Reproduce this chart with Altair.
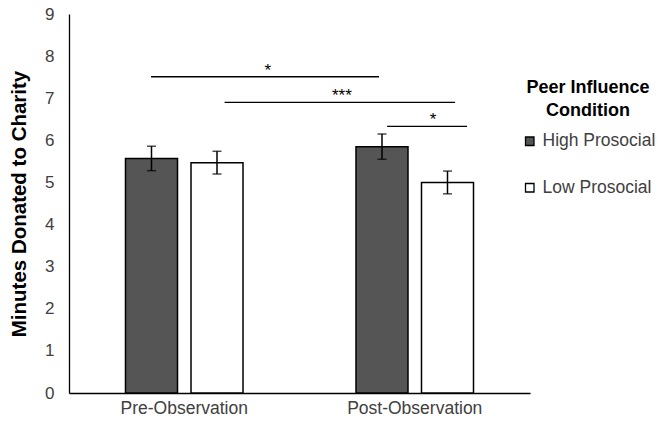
import altair as alt
import pandas as pd

phases = ["Pre-Observation", "Post-Observation"]
conditions = ["High Prosocial", "Low Prosocial"]
means = [[5.57, 5.47], [5.85, 5.00]]
ses = [[0.29, 0.27], [0.30, 0.27]]

rows = []
for i, p in enumerate(phases):
    for j, c in enumerate(conditions):
        rows.append({"phase": p, "cond": c, "mean": means[i][j],
                     "lo": means[i][j] - ses[i][j], "hi": means[i][j] + ses[i][j]})
df = pd.DataFrame(rows)

# significance brackets (x in category units across the two groups, y in minutes)
sig_x1 = [0.356, 0.675, 1.380]
sig_x2 = [1.345, 1.675, 1.727]
sig_y = [7.51, 6.90, 6.33]
sig_label = ["*", "***", "*"]
sig_tx = [0.863, 1.184, 1.579]
sig = pd.DataFrame({"x1": sig_x1, "x2": sig_x2, "y": sig_y})
sig_t = pd.DataFrame({"x": sig_tx, "y": sig_y, "label": sig_label})

FONT = "Liberation Sans"

xenc = alt.X("phase:N", sort=phases, title=None,
             scale=alt.Scale(paddingInner=0, paddingOuter=0),
             axis=alt.Axis(labelAngle=0, ticks=False, domainColor="#000000",
                           domainWidth=1.3, labelFontSize=17.5, labelColor="#404040",
                           labelPadding=6, labelFont=FONT))
xoff = alt.XOffset("cond:N", sort=conditions,
                   scale=alt.Scale(paddingInner=0.206, paddingOuter=0.8625))
yscale = alt.Scale(domain=[0, 9], nice=False)
yenc = alt.Y("mean:Q", scale=yscale, title="Minutes Donated to Charity",
             axis=alt.Axis(values=list(range(10)), grid=False, ticks=False,
                           domainColor="#000000", domainWidth=1.3,
                           labelFontSize=17, labelColor="#404040", labelPadding=15,
                           labelFont=FONT, titleFont=FONT, titleFontSize=20.5,
                           titleFontWeight="bold", titleColor="#000000",
                           titlePadding=15))

bars = alt.Chart(df).mark_bar(stroke="#000000", strokeWidth=1.5).encode(
    x=xenc, xOffset=xoff, y=yenc,
    fill=alt.Fill("cond:N", sort=conditions,
                  scale=alt.Scale(domain=conditions, range=["#555555", "#ffffff"]),
                  legend=alt.Legend(title=["Peer Influence", "Condition"],
                                    orient="none", legendX=452, legendY=65,
                                    titleFont=FONT, titleFontSize=18,
                                    titleFontWeight="bold", titleColor="#000000",
                                    titleAlign="center", titleAnchor="middle",
                                    titleLineHeight=22.5, titlePadding=13,
                                    labelFont=FONT, labelFontSize=17.5,
                                    labelColor="#404040", labelOffset=4,
                                    symbolType="square", symbolSize=72,
                                    symbolStrokeColor="#000000",
                                    symbolStrokeWidth=1.3, rowPadding=27.5)),
)

err = alt.Chart(df).mark_rule(color="#000000", strokeWidth=1.5).encode(
    x=alt.X("phase:N", sort=phases), xOffset=xoff,
    y=alt.Y("lo:Q", scale=yscale), y2="hi:Q")
cap_lo = alt.Chart(df).mark_tick(color="#000000", thickness=1.5, size=9,
                                 orient="horizontal").encode(
    x=alt.X("phase:N", sort=phases), xOffset=xoff, y=alt.Y("lo:Q", scale=yscale))
cap_hi = alt.Chart(df).mark_tick(color="#000000", thickness=1.5, size=9,
                                 orient="horizontal").encode(
    x=alt.X("phase:N", sort=phases), xOffset=xoff, y=alt.Y("hi:Q", scale=yscale))

bar_layer = alt.layer(bars, err, cap_lo, cap_hi)

xq = alt.Scale(domain=[0, 2], nice=False, zero=False)
lines = alt.Chart(sig).mark_rule(color="#000000", strokeWidth=1.3).encode(
    x=alt.X("x1:Q", scale=xq, axis=None), x2="x2:Q",
    y=alt.Y("y:Q", scale=yscale, axis=None))
stars = alt.Chart(sig_t).mark_text(font=FONT, fontSize=17, color="#000000",
                                   baseline="alphabetic", dy=-1).encode(
    x=alt.X("x:Q", scale=xq, axis=None),
    y=alt.Y("y:Q", scale=yscale, axis=None), text="label:N")
ann = alt.layer(lines, stars)

chart = alt.layer(bar_layer, ann).resolve_scale(
    x="independent", y="independent").properties(
    width=461, height=379,
    background="#ffffff",
    autosize=alt.AutoSizeParams(type="none"),
    padding={"left": 61, "top": 6, "right": 128, "bottom": 22},
).configure_view(stroke=None)

chart.save("out.html", embed_options={"renderer": "svg", "actions": False})
